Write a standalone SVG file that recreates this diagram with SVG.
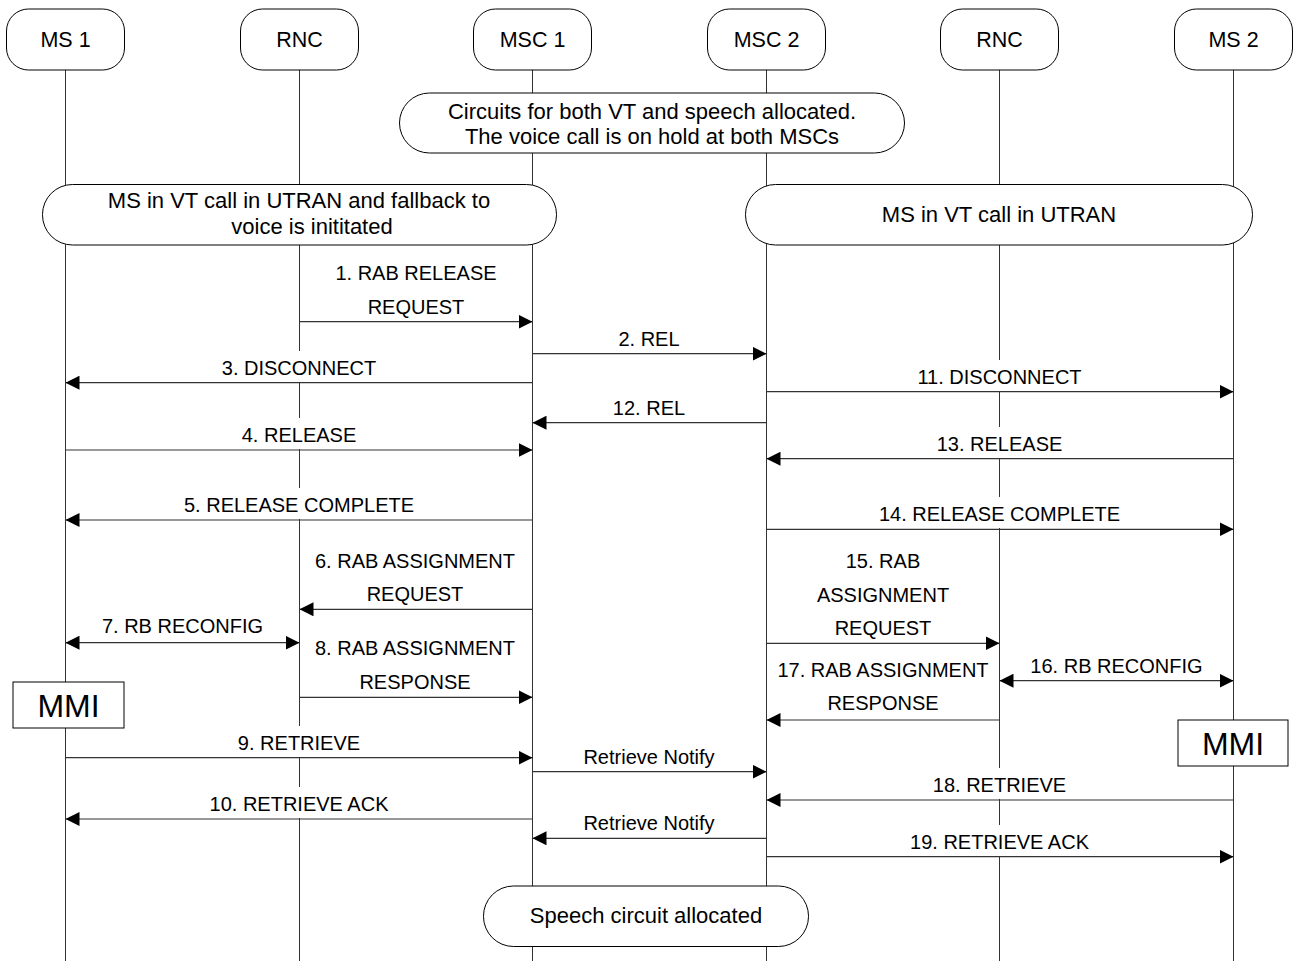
<svg xmlns="http://www.w3.org/2000/svg" width="1295" height="961" viewBox="0 0 1295 961">
<style>
.ll{stroke:#333;stroke-width:1}
.box{fill:#fff;stroke:#000;stroke-width:1}
.msg{stroke:#333;stroke-width:1.2;fill:none;marker-end:url(#ah)}
.bi{marker-start:url(#ah)}
.bg{fill:#fff}
.hdr{font-family:"Liberation Sans",Arial,sans-serif;font-size:21.5px;text-anchor:middle;fill:#000}
.nt{font-family:"Liberation Sans",Arial,sans-serif;font-size:22px;text-anchor:middle;fill:#000}
.lbl{font-family:"Liberation Sans",Arial,sans-serif;font-size:20px;text-anchor:middle;fill:#000}
.mmi{font-family:"Liberation Sans",Arial,sans-serif;font-size:32px;text-anchor:middle;fill:#000}
</style>
<defs>
<marker id="ah" markerUnits="userSpaceOnUse" markerWidth="14" markerHeight="14" refX="14" refY="7" orient="auto-start-reverse" viewBox="0 0 14 14">
<path d="M0,0 L14,7 L0,14 z" fill="#000"/>
</marker>
</defs>
<rect width="1295" height="961" fill="#fff"/>
<g id="lifelines">
<line class="ll" x1="65.5" y1="70" x2="65.5" y2="961"/>
<line class="ll" x1="299.5" y1="70" x2="299.5" y2="961"/>
<line class="ll" x1="532.5" y1="70" x2="532.5" y2="961"/>
<line class="ll" x1="766.5" y1="70" x2="766.5" y2="961"/>
<line class="ll" x1="999.5" y1="70" x2="999.5" y2="961"/>
<line class="ll" x1="1233.5" y1="70" x2="1233.5" y2="961"/>
</g>
<g id="node-ms1"><rect class="box" x="6.5" y="9" width="118" height="61" rx="22"/><text class="hdr" x="65.5" y="47">MS 1</text></g>
<g id="node-rnc1"><rect class="box" x="240.5" y="9" width="118" height="61" rx="22"/><text class="hdr" x="299.5" y="47">RNC</text></g>
<g id="node-msc1"><rect class="box" x="473.5" y="9" width="118" height="61" rx="22"/><text class="hdr" x="532.5" y="47">MSC 1</text></g>
<g id="node-msc2"><rect class="box" x="707.5" y="9" width="118" height="61" rx="22"/><text class="hdr" x="766.5" y="47">MSC 2</text></g>
<g id="node-rnc2"><rect class="box" x="940.5" y="9" width="118" height="61" rx="22"/><text class="hdr" x="999.5" y="47">RNC</text></g>
<g id="node-ms2"><rect class="box" x="1174.5" y="9" width="118" height="61" rx="22"/><text class="hdr" x="1233.5" y="47">MS 2</text></g>

<g id="note-circuits"><rect class="box" x="399.5" y="93" width="505" height="60" rx="30"/><text class="nt" x="652" y="118.5">Circuits for both VT and speech allocated.</text><text class="nt" x="652" y="143.5">The voice call is on hold at both MSCs</text></g>
<g id="note-ms1-vt"><rect class="box" x="42.5" y="184.5" width="514" height="60.5" rx="30"/><text class="nt" x="299" y="208">MS in VT call in UTRAN and fallback to</text><text class="nt" x="312" y="234">voice is inititated</text></g>
<g id="note-ms2-vt"><rect class="box" x="745.5" y="184.5" width="507" height="60.5" rx="30"/><text class="nt" x="999" y="222">MS in VT call in UTRAN</text></g>
<g id="note-speech"><rect class="box" x="483.5" y="886" width="325" height="60.5" rx="30"/><text class="nt" x="646" y="923">Speech circuit allocated</text></g>

<g id="mmi-1"><rect class="box" x="13" y="682" width="111" height="46"/><text class="mmi" x="68.5" y="717">MMI</text></g>
<g id="mmi-2"><rect class="box" x="1178" y="720" width="110" height="46"/><text class="mmi" x="1233" y="755">MMI</text></g>

<g id="connectors">
<line class="msg" x1="299.5" y1="321.7" x2="532.5" y2="321.7"/>
<text class="lbl" x="416" y="280">1. RAB RELEASE</text><text class="lbl" x="416" y="313.5">REQUEST</text>
<line class="msg" x1="532.5" y1="353.7" x2="766.5" y2="353.7"/>
<text class="lbl" x="649" y="345.5">2. REL</text>
<line class="msg" x1="532.5" y1="382.7" x2="65.5" y2="382.7"/>
<rect class="bg" x="218" y="351" width="162" height="31"/>
<text class="lbl" x="299" y="375">3. DISCONNECT</text>
<line class="msg" x1="766.5" y1="391.7" x2="1233.5" y2="391.7"/>
<rect class="bg" x="912" y="360" width="175" height="31"/>
<text class="lbl" x="999.5" y="384">11. DISCONNECT</text>
<line class="msg" x1="766.5" y1="422.7" x2="532.5" y2="422.7"/>
<text class="lbl" x="649" y="414.5">12. REL</text>
<line class="msg" x1="65.5" y1="450" x2="532.5" y2="450"/>
<rect class="bg" x="238" y="418" width="123" height="31"/>
<text class="lbl" x="299" y="442">4. RELEASE</text>
<line class="msg" x1="1233.5" y1="458.7" x2="766.5" y2="458.7"/>
<rect class="bg" x="933" y="427" width="134" height="31"/>
<text class="lbl" x="999.5" y="451">13. RELEASE</text>
<line class="msg" x1="532.5" y1="520" x2="65.5" y2="520"/>
<rect class="bg" x="180" y="488" width="238" height="31"/>
<text class="lbl" x="299" y="512">5. RELEASE COMPLETE</text>
<line class="msg" x1="766.5" y1="529.3" x2="1233.5" y2="529.3"/>
<rect class="bg" x="875" y="497" width="249" height="31"/>
<text class="lbl" x="999.5" y="521">14. RELEASE COMPLETE</text>
<line class="msg" x1="532.5" y1="609.3" x2="299.5" y2="609.3"/>
<text class="lbl" x="415" y="567.5">6. RAB ASSIGNMENT</text><text class="lbl" x="415" y="601">REQUEST</text>
<line class="msg" x1="766.5" y1="643.3" x2="999.5" y2="643.3"/>
<text class="lbl" x="883" y="568">15. RAB</text><text class="lbl" x="883" y="601.5">ASSIGNMENT</text><text class="lbl" x="883" y="635">REQUEST</text>
<line class="msg bi" x1="65.5" y1="642.7" x2="299.5" y2="642.7"/>
<text class="lbl" x="182.5" y="633">7. RB RECONFIG</text>
<line class="msg" x1="299.5" y1="697.3" x2="532.5" y2="697.3"/>
<text class="lbl" x="415" y="655">8. RAB ASSIGNMENT</text><text class="lbl" x="415" y="688.5">RESPONSE</text>
<line class="msg bi" x1="999.5" y1="680.7" x2="1233.5" y2="680.7"/>
<text class="lbl" x="1116.5" y="673">16. RB RECONFIG</text>
<line class="msg" x1="999.5" y1="720" x2="766.5" y2="720"/>
<text class="lbl" x="883" y="677">17. RAB ASSIGNMENT</text><text class="lbl" x="883" y="710">RESPONSE</text>
<line class="msg" x1="65.5" y1="757.7" x2="532.5" y2="757.7"/>
<rect class="bg" x="234" y="726" width="131" height="31"/>
<text class="lbl" x="299" y="750">9. RETRIEVE</text>
<line class="msg" x1="532.5" y1="771.7" x2="766.5" y2="771.7"/>
<text class="lbl" x="649" y="763.5">Retrieve Notify</text>
<line class="msg" x1="1233.5" y1="800" x2="766.5" y2="800"/>
<rect class="bg" x="929" y="768" width="141" height="31"/>
<text class="lbl" x="999.5" y="792">18. RETRIEVE</text>
<line class="msg" x1="532.5" y1="819" x2="65.5" y2="819"/>
<rect class="bg" x="205" y="787" width="188" height="31"/>
<text class="lbl" x="299" y="811">10. RETRIEVE ACK</text>
<line class="msg" x1="766.5" y1="838.3" x2="532.5" y2="838.3"/>
<text class="lbl" x="649" y="830">Retrieve Notify</text>
<line class="msg" x1="766.5" y1="856.7" x2="1233.5" y2="856.7"/>
<rect class="bg" x="905" y="825" width="189" height="31"/>
<text class="lbl" x="999.5" y="849">19. RETRIEVE ACK</text>
</g>
</svg>
